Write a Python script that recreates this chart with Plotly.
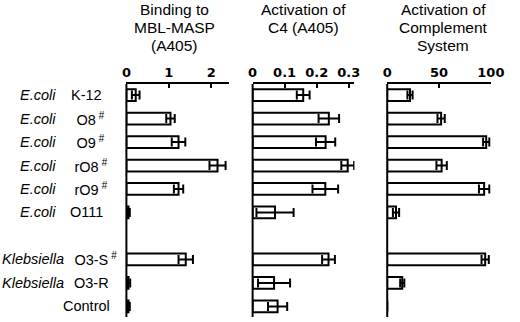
import plotly.graph_objects as go

# ---- data ----
species = ["E.coli", "E.coli", "E.coli", "E.coli", "E.coli", "E.coli",
           "Klebsiella", "Klebsiella", ""]
strains = ["K-12", "O8", "O9", "rO8", "rO9", "O111", "O3-S", "O3-R", "Control"]
has_hash = [False, True, True, True, True, False, True, False, False]

binding = [0.22, 1.04, 1.23, 2.15, 1.23, 0.05, 1.40, 0.05, 0.05]
binding_err = [0.09, 0.10, 0.16, 0.19, 0.11, 0.03, 0.17, 0.04, 0.03]

c4 = [0.158, 0.238, 0.228, 0.297, 0.227, 0.070, 0.237, 0.067, 0.078]
c4_err = [0.020, 0.032, 0.030, 0.020, 0.040, 0.058, 0.020, 0.050, 0.030]

complement = [22, 52, 95.5, 52.5, 93.5, 8.5, 94.5, 14.5, 0]
complement_err = [2.5, 3.5, 3.0, 5.0, 5.0, 3.0, 3.5, 2.0, 0]

panel_titles = [["Binding to", "MBL-MASP", "(A405)"],
                ["Activation of", "C4 (A405)"],
                ["Activation of", "Complement", "System"]]
x_ranges = [[0, 2.425], [0, 0.318], [0, 100]]
x_ticks = [[0, 1, 2], [0, 0.1, 0.2, 0.3], [0, 50, 100]]
x_ticklabels = [["0", "1", "2"], ["0", "0.1", "0.2", "0.3"], ["0", "50", "100"]]

# ---- layout helpers ----
W, H = 520, 322
cats = [f"{s} {t}".strip() for s, t in zip(species, strains)]
spacer = " "
cat_order = cats[:6] + [spacer] + cats[6:]

def px(x):
    return x / W

def py(y):
    return 1 - y / H

domains = [[px(126), px(232.7)], [px(257), px(362.7)], [px(396.7), px(504.3)]]
title_x = [176, 310, 455]
title_line_y = [9, 27.5, 46]
y_dom = [py(317), py(84)]

fig = go.Figure()
series = [(binding, binding_err), (c4, c4_err), (complement, complement_err)]
for i, (vals, errs) in enumerate(series):
    xa = "x" if i == 0 else f"x{i+1}"
    fig.add_trace(go.Bar(
        x=vals, y=cats, orientation="h",
        xaxis=xa, yaxis="y",
        width=0.5,
        marker=dict(color="white", line=dict(color="black", width=2)),
        error_x=dict(type="data", array=errs, symmetric=True,
                     color="black", thickness=2, width=4.5),
        showlegend=False, hoverinfo="skip",
    ))

tickfont = dict(family="DejaVu Sans", size=13, color="black", weight="bold")
axis_common = dict(side="top", showline=True, linecolor="black", linewidth=2,
                   ticks="inside", ticklen=4, tickwidth=1.5, tickcolor="black",
                   showgrid=False, zeroline=False, tickfont=tickfont,
                   anchor="y", fixedrange=True)
for i in range(3):
    key = "xaxis" if i == 0 else f"xaxis{i+1}"
    fig.layout[key] = dict(axis_common, domain=domains[i], range=x_ranges[i],
                           tickvals=x_ticks[i], ticktext=x_ticklabels[i])

fig.update_layout(
    yaxis=dict(domain=y_dom, type="category", categoryorder="array",
               categoryarray=cat_order, range=[9.45, -0.47],
               showticklabels=False, ticks="", showline=False,
               showgrid=False, zeroline=False, fixedrange=True),
    width=W, height=H,
    margin=dict(l=0, r=0, t=0, b=0),
    plot_bgcolor="white", paper_bgcolor="white",
    bargap=0.5,
)

# y-axis lines for each panel
for i in range(3):
    fig.add_shape(type="line", xref="paper", yref="paper",
                  x0=domains[i][0], x1=domains[i][0], y0=y_dom[0], y1=y_dom[1],
                  line=dict(color="black", width=2))

# titles, one annotation per line
title_font = dict(family="Liberation Sans", size=15.5, color="black")
for i in range(3):
    for j, line in enumerate(panel_titles[i]):
        fig.add_annotation(text=line, xref="paper", yref="paper",
                           x=px(title_x[i]), y=py(title_line_y[j]),
                           xanchor="center", yanchor="middle",
                           showarrow=False, font=title_font)

# row labels
lab_font = dict(family="Liberation Sans", size=14.5, color="black")
ghost = "<span style='color:rgba(0,0,0,0)'><sup> #</sup></span>"
for s, t, h, c in zip(species, strains, has_hash, cats):
    kleb = s == "Klebsiella"
    if s:
        fig.add_annotation(text=f"<i>{s}</i>", xref="paper", yref="y",
                           x=px(63.5 if kleb else 55.5),
                           y=c, xanchor="right", yanchor="middle",
                           showarrow=False, font=lab_font)
    if h:
        txt = ghost + t + "<sup><i> #</i></sup>"
    else:
        txt = t
    fig.add_annotation(text=txt, xref="paper", yref="y",
                       x=px(89.5 if kleb else 85),
                       y=c, xanchor="center", yanchor="middle",
                       showarrow=False, font=lab_font)

fig.write_html("out.html", config={"displayModeBar": False},
               post_script="document.body.style.margin='0';")
